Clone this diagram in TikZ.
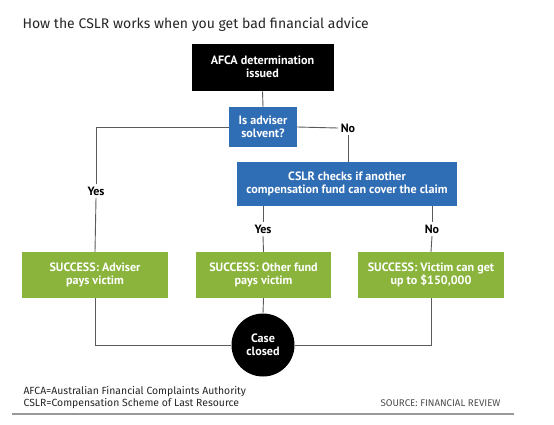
\documentclass[tikz,border=0pt]{standalone}
\usepackage{fontspec}
\setmainfont{Fira Sans}
\newfontfamily\boxfont{PT Sans}
\definecolor{cblue}{HTML}{2F6DB5}
\definecolor{cgreen}{HTML}{8AB43C}
\definecolor{cline}{HTML}{5A5A5A}
\begin{document}
\begin{tikzpicture}[x=1pt,y=-1pt,
  box/.style={inner sep=0pt,align=center,text=white,font=\boxfont\bfseries\fontsize{12.1}{13}\selectfont},
  blackbox/.style={box,fill=black,draw=white,line width=0.6pt},
  bluebox/.style={box,fill=cblue},
  greenbox/.style={box,fill=cgreen},
  lbl/.style={inner sep=2.5pt,font=\boxfont\bfseries\fontsize{12}{12}\selectfont},
  conn/.style={draw=cline,line width=0.9pt}]
\useasboundingbox (0,0) rectangle (554,424);
\node[anchor=west,font=\fontsize{14}{16}\selectfont,text=black!85] (title) at (19,25) {How the CSLR works when you get bad financial advice};
\node[blackbox,minimum width=143pt,minimum height=48pt] (afca) at (262.5,67) {AFCA determination\\issued};
\node[bluebox,minimum width=68pt,minimum height=40pt] (q1) at (263,127) {Is adviser\\solvent?};
\node[bluebox,minimum width=220pt,minimum height=44pt] (q2) at (347,184) {CSLR checks if another\\compensation fund can cover the claim};
\node[greenbox,minimum width=146pt,minimum height=46pt] (g1) at (95,275) {SUCCESS: Adviser\\pays victim};
\node[greenbox,minimum width=135pt,minimum height=46pt] (g2) at (263.5,275) {SUCCESS: Other fund\\pays victim};
\node[greenbox,minimum width=146pt,minimum height=46pt] (g3) at (431,275) {SUCCESS: Victim can get\\up to \$150,000};
\node[box,circle,fill=black,minimum size=63pt] (end) at (263,345) {Case\\closed};
\node[lbl] (yes1) at (96,191) {Yes};
\node[lbl] (no1) at (348,128) {No};
\node[lbl] (yes2) at (263,229) {Yes};
\node[lbl] (no2) at (432,229) {No};
\draw[conn] (afca.south) -- (q1.north);
\draw[conn] (q1.west) -| (yes1.north);
\draw[conn] (yes1.south) -- (g1.north);
\draw[conn] (q1.east) -- (no1.west);
\draw[conn] (no1.south) -- (q2.north -| no1.south);
\draw[conn] (yes2 |- q2.south) -- (yes2.north);
\draw[conn] (yes2.south) -- (g2.north);
\draw[conn] (no2 |- q2.south) -- (no2.north);
\draw[conn] (no2.south) -- (g3.north);
\draw[conn] (g1.south) |- (end.west);
\draw[conn] (g2.south) -- (end.north);
\draw[conn] (g3.south) |- (end.east);
\node[anchor=west,align=left,font=\fontsize{10.4}{12}\selectfont,text=black!85] (notes) at (20,397.5) {AFCA=Australian Financial Complaints Authority\\CSLR=Compensation Scheme of Last Resource};
\node[anchor=east,font=\fontsize{9.7}{10}\selectfont,text=black!70] (src) at (504,403.5) {SOURCE: FINANCIAL REVIEW};
\coordinate (r1) at (12,414);
\coordinate (r2) at (514,414);
\draw[draw=black!40,line width=1.2pt] (r1) -- (r2);
\end{tikzpicture}
\end{document}
